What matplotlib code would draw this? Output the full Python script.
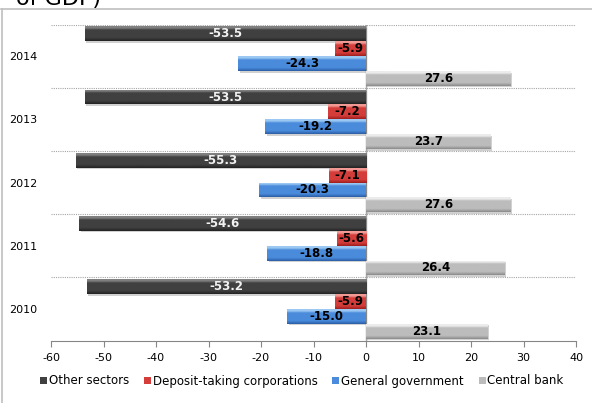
import numpy as np
import matplotlib
matplotlib.use("Agg")
import matplotlib.pyplot as plt
from matplotlib.colors import LinearSegmentedColormap
from matplotlib.patches import Rectangle
from matplotlib.lines import Line2D

plt.rcParams['font.family'] = ['DejaVu Sans']

years = ['2010', '2011', '2012', '2013', '2014']
series_names = ['Other sectors', 'Deposit-taking corporations', 'General government', 'Central bank']
other_sectors = [-53.2, -54.6, -55.3, -53.5, -53.5]
deposit_taking = [-5.9, -5.6, -7.1, -7.2, -5.9]
general_government = [-15.0, -18.8, -20.3, -19.2, -24.3]
central_bank = [23.1, 26.4, 27.6, 23.7, 27.6]
xticks = [-60, -50, -40, -30, -20, -10, 0, 10, 20, 30, 40]

series_values = [other_sectors, deposit_taking, general_government, central_bank]
# (base, highlight, dark, label color)
styles = [
    ('#404040', '#808080', '#222222', '#f2f2f2'),
    ('#d43d3a', '#f39a95', '#9e1f1d', 'black'),
    ('#4a8bdb', '#9cc8f3', '#2a5ea6', 'black'),
    ('#bcbcbc', '#ececec', '#8a8a8a', 'black'),
]

fig = plt.figure(figsize=(5.92, 4.03), dpi=100)
ax = fig.add_axes([51/592, 1-340.5/403, 525/592, (340.5-24.5)/403])

y = np.arange(len(years))
h = 0.235
offsets = [1.5*h, 0.5*h, -0.5*h, -1.5*h]

ax.axvline(0, color='#a6a6a6', lw=1.0, zorder=1)

for vals, off, (base, hi, dk, lc) in zip(series_values, offsets, styles):
    bars = ax.barh(y + off, vals, height=h, color=base, edgecolor='none', zorder=3)
    cmap = LinearSegmentedColormap.from_list('g', [(0, dk), (0.22, base), (0.75, base), (0.88, hi), (1.0, hi)])
    for b, v in zip(bars, vals):
        x0, y0 = b.get_x(), b.get_y()
        w, hh = b.get_width(), b.get_height()
        # shadow
        sh = Rectangle((x0 + 0.25, y0 - 0.025), w, hh, facecolor='#000000', alpha=0.18,
                       edgecolor='none', zorder=2)
        ax.add_patch(sh)
        grad = np.linspace(0, 1, 64).reshape(-1, 1)
        im = ax.imshow(grad, extent=(x0, x0 + w, y0, y0 + hh), origin='lower',
                       cmap=cmap, aspect='auto', zorder=3.5, interpolation='bilinear')
        im.set_clip_path(b)
        ax.text(v / 2, b.get_y() + hh / 2, f'{v:.1f}', ha='center', va='center',
                fontsize=8.5, fontweight='bold', color=lc, zorder=5)

ax.set_xlim(-60, 40)
ax.set_ylim(-0.5, len(years) - 0.5)
ax.set_xticks(xticks)
ax.set_xticklabels([str(t) for t in xticks], fontsize=8)
ax.set_yticks(y)
ax.set_yticklabels(years, fontsize=8)
ax.set_yticks(np.arange(len(years)) + 0.5, minor=True)
ax.tick_params(axis='y', which='both', length=0, pad=10)
ax.tick_params(axis='x', length=4, color='#868686', direction='out', pad=5)
ax.grid(axis='y', which='minor', linestyle=(0, (1, 1)), color='#a6a6a6', lw=0.8, zorder=0)
for s in ['top', 'right', 'left']:
    ax.spines[s].set_visible(False)
ax.spines['bottom'].set_color('#868686')
ax.set_axisbelow(True)

# legend
handles = [Rectangle((0, 0), 1, 1, facecolor=st[0], edgecolor='none') for st in styles]
leg = fig.legend(handles, series_names, loc='center left', bbox_to_anchor=(40/592, 1-381/403),
                 ncol=4, frameon=False, fontsize=8.5, handlelength=0.6, handleheight=0.6,
                 handletextpad=0.15, columnspacing=1.25, borderaxespad=0, borderpad=0)

# outer frame (chart area border) and cut-off title
fig.add_artist(Line2D([1/592, 1], [1-9/403, 1-9/403], color='#bfbfbf', lw=1.2, transform=fig.transFigure))
fig.add_artist(Line2D([1.5/592, 1.5/592], [0, 1-9/403], color='#bfbfbf', lw=1.2, transform=fig.transFigure))
fig.text(16/592, 1-5/403, 'of GDP)', fontsize=16, ha='left', va='baseline', color='black')

fig.savefig('out.png', dpi=100)
